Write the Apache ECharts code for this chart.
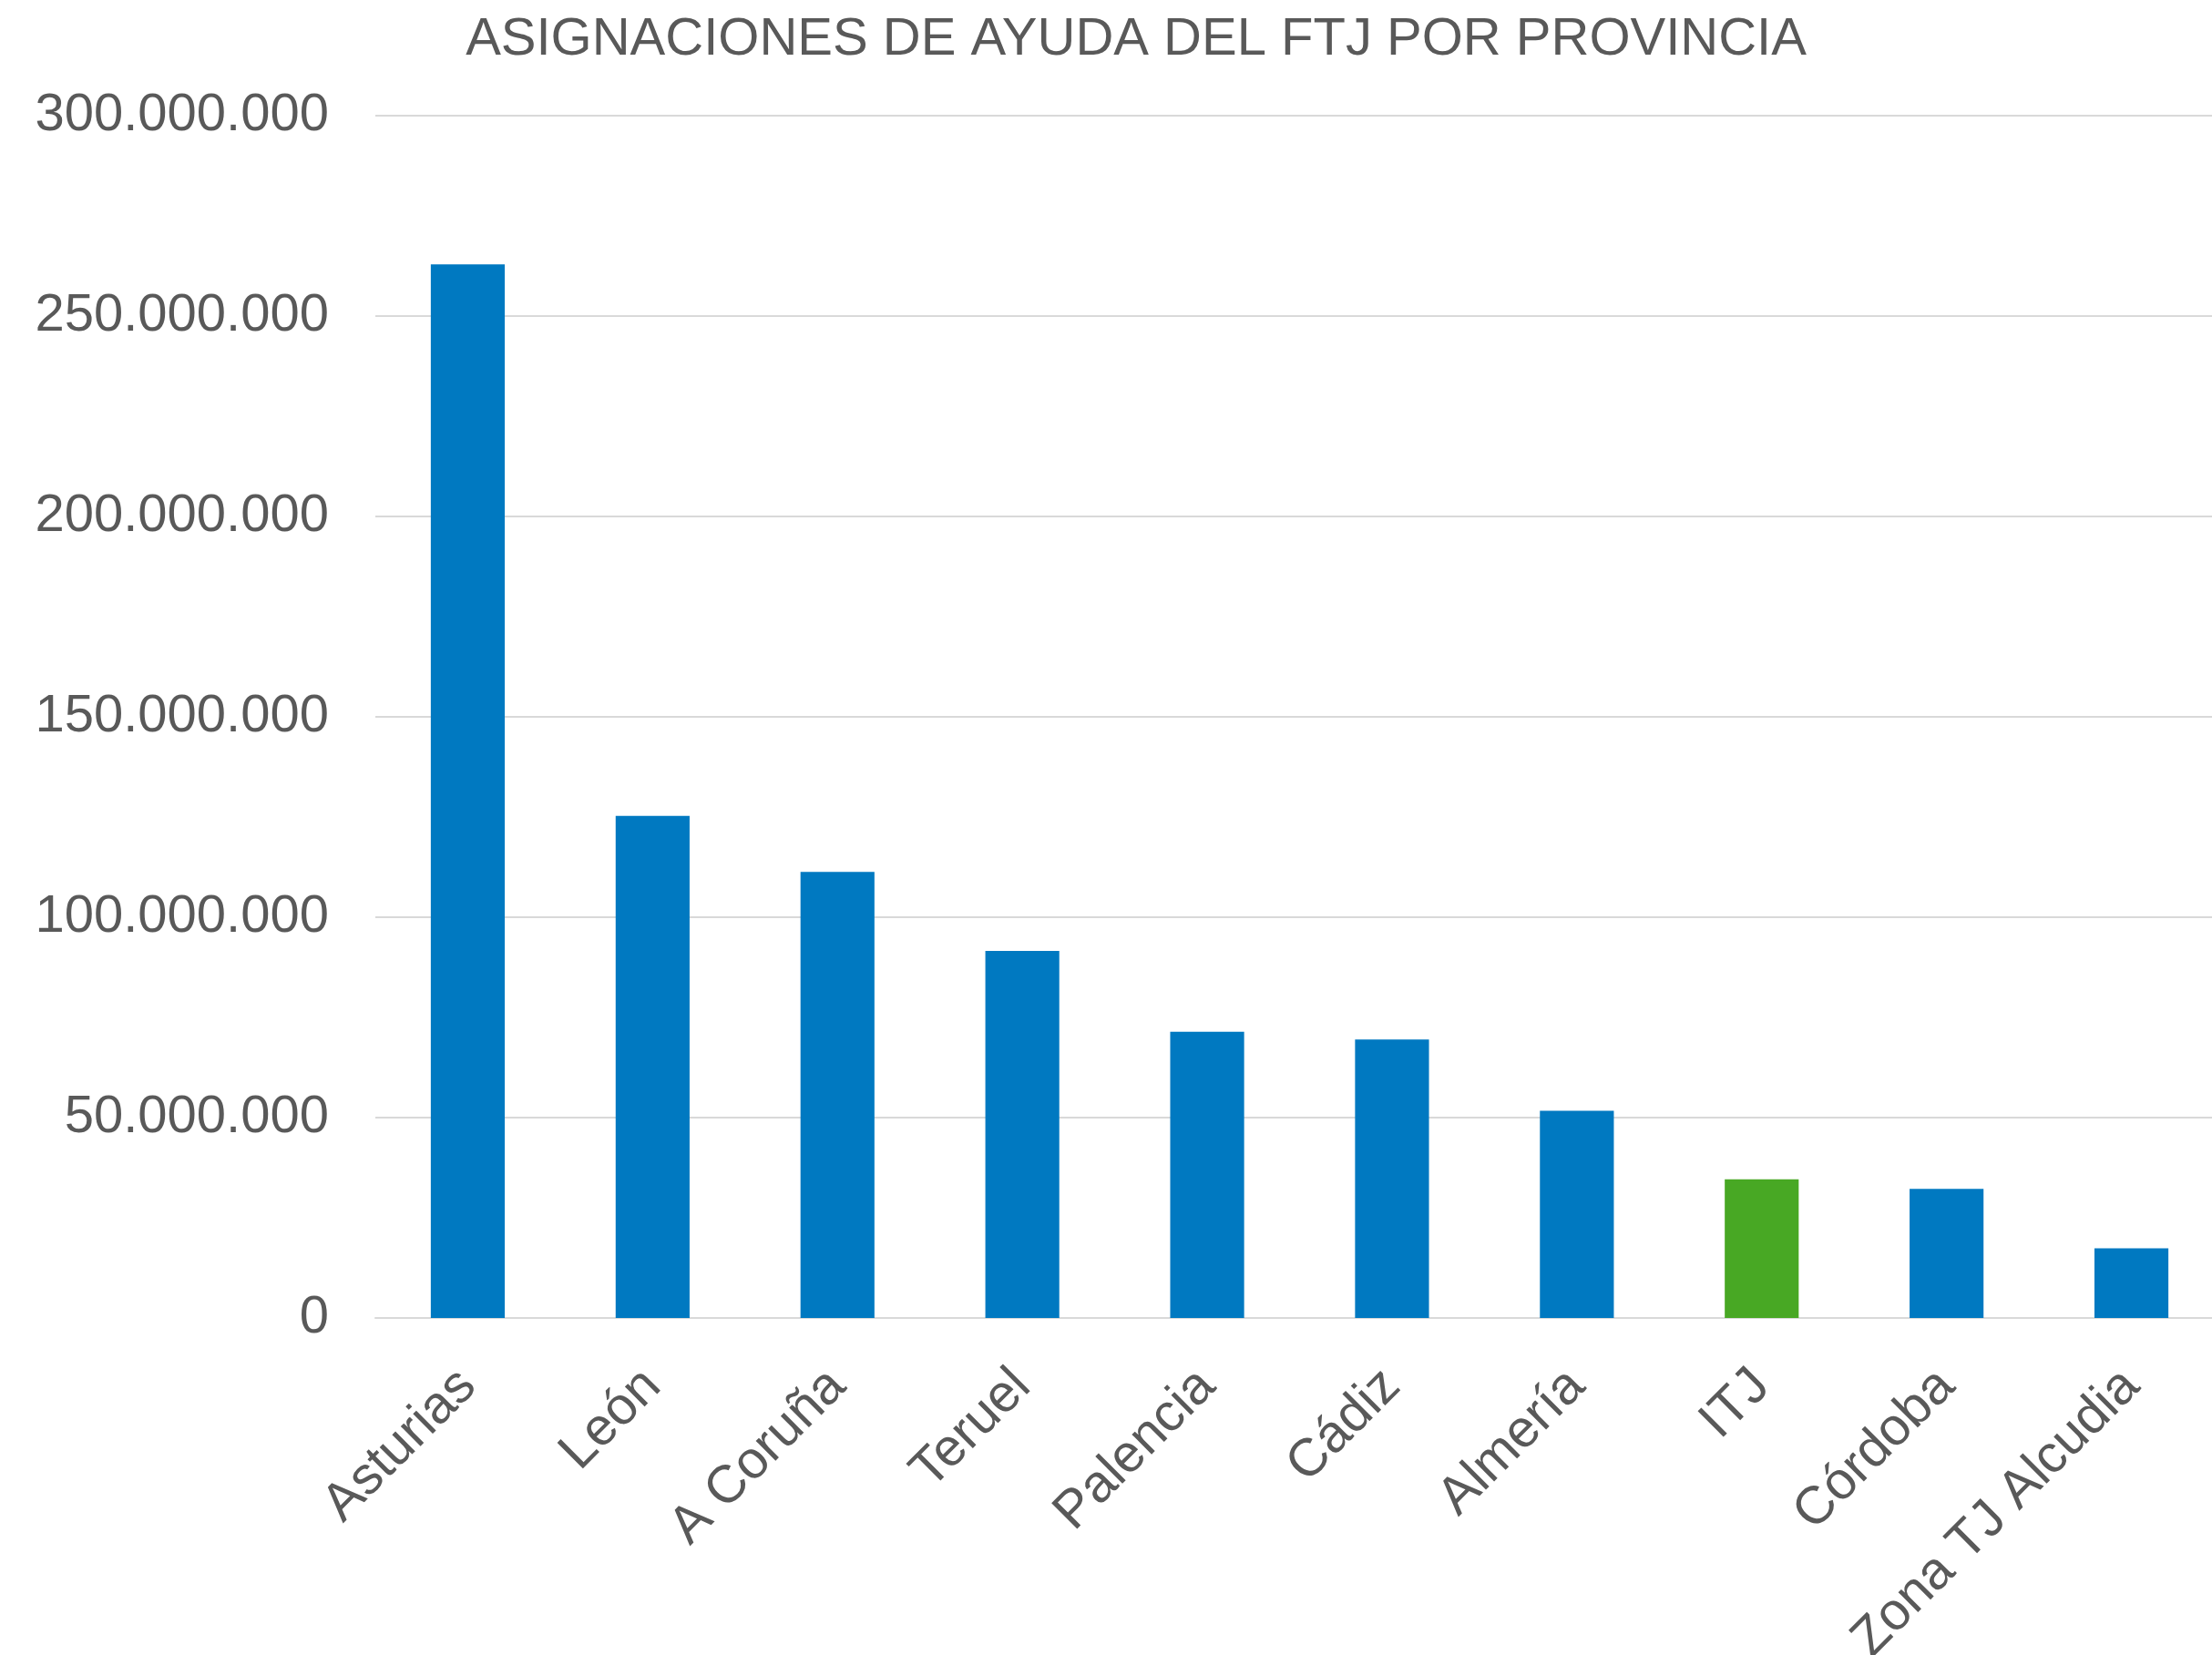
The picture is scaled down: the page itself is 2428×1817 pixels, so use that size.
<!DOCTYPE html>
<html>
<head>
<meta charset="utf-8">
<title>Asignaciones de ayuda del FTJ por provincia</title>
<script src="https://cdn.jsdelivr.net/npm/echarts@6/dist/echarts.min.js"></script>
<style>
  html, body { margin: 0; padding: 0; background: #fff; }
  #chart { width: 2428px; height: 1817px; }
</style>
</head>
<body>
<div id="chart"></div>
<script>
// provincias
var provincias = ['Asturias', 'León', 'A Coruña', 'Teruel', 'Palencia', 'Cádiz', 'Almería', 'ITJ', 'Córdoba', 'Zona TJ Alcudia'];
// importes (euros)
var importes = [262900000, 125300000, 111300000, 91600000, 71400000, 69500000, 51700000, 34600000, 32200000, 17400000];
// ticks del eje Y
var ejeMin = 0;
var ejeMax = 300000000;
var ejeIntervalo = 50000000;

var azul = '#0079C1';
var verde = '#48A824';
var destacado = 'ITJ';
var gris = '#595959';
var fuente = '"Liberation Sans", Arial, sans-serif';

function miles(v) {
    return String(v).replace(/\B(?=(\d{3})+(?!\d))/g, '.');
}

var chart = echarts.init(document.getElementById('chart'));
var option = {
    backgroundColor: '#fff',
    animation: false,
    title: {
        text: 'ASIGNACIONES DE AYUDA DEL FTJ POR PROVINCIA',
        left: 1242,
        textAlign: 'center',
        top: 10,
        textStyle: {
            color: gris,
            fontSize: 58,
            fontWeight: 'normal',
            fontFamily: fuente
        }
    },
    // el área de trazado se sale un poco por la derecha
    grid: {
        left: 412,
        right: -13,
        top: 127,
        bottom: 370,
        outerBoundsMode: 'none',
        containLabel: false
    },
    xAxis: {
        type: 'category',
        data: provincias,
        axisTick: { show: false },
        axisLine: {
            show: true,
            lineStyle: { color: '#D9D9D9', width: 2 }
        },
        axisLabel: {
            rotate: 45,
            interval: 0,
            margin: 66,
            color: gris,
            fontSize: 58,
            fontFamily: fuente
        }
    },
    yAxis: {
        type: 'value',
        min: ejeMin,
        max: ejeMax,
        interval: ejeIntervalo,
        axisLine: { show: false },
        axisTick: { show: false },
        splitLine: {
            lineStyle: { color: '#D9D9D9', width: 2 }
        },
        axisLabel: {
            margin: 51,
            color: gris,
            fontSize: 58,
            fontFamily: fuente,
            formatter: function (v) { return miles(v); }
        }
    },
    series: [
        {
            type: 'bar',
            data: importes,
            barWidth: '40%',
            itemStyle: {
                color: function (p) {
                    return provincias[p.dataIndex] === destacado ? verde : azul;
                }
            }
        }
    ]
};
chart.setOption(option);
</script>
</body>
</html>
